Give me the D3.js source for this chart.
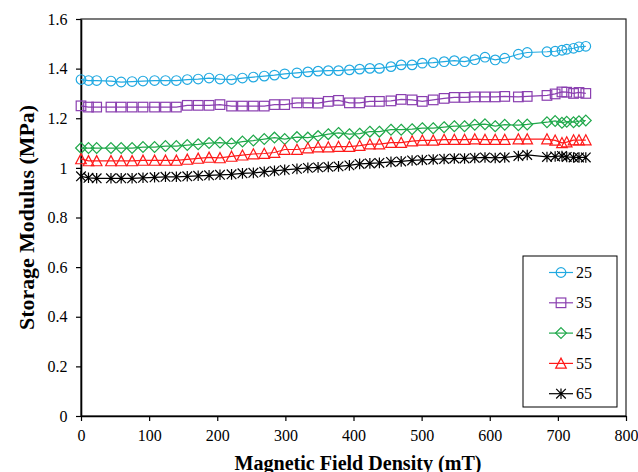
<!DOCTYPE html>
<html><head><meta charset="utf-8">
<script src="https://cdn.jsdelivr.net/npm/d3@7"></script>
<style>body{margin:0;background:#fff}svg{display:block}</style>
</head><body><svg id="c" width="638" height="472"></svg>
<script>
const field = [0, 11, 23, 44, 59, 75, 91, 108, 124, 140, 156, 172, 188, 204, 221, 237, 253, 269, 284, 299, 317, 333, 348, 363, 378, 394, 409, 424, 438, 455, 470, 486, 501, 517, 533, 548, 563, 578, 593, 608, 622, 642, 655, 684, 696, 706, 713, 723, 731, 741];
const s25 = [1.356,1.352,1.352,1.350,1.346,1.348,1.350,1.352,1.352,1.352,1.356,1.358,1.362,1.358,1.356,1.362,1.366,1.370,1.374,1.379,1.383,1.387,1.390,1.392,1.392,1.395,1.398,1.401,1.401,1.408,1.415,1.415,1.422,1.424,1.428,1.432,1.428,1.436,1.446,1.435,1.442,1.458,1.465,1.468,1.470,1.474,1.478,1.482,1.488,1.490];
const s35 = [1.250,1.245,1.245,1.245,1.245,1.245,1.245,1.245,1.245,1.245,1.252,1.252,1.252,1.255,1.249,1.249,1.249,1.249,1.255,1.255,1.262,1.262,1.261,1.268,1.272,1.262,1.262,1.268,1.268,1.270,1.276,1.274,1.268,1.274,1.280,1.284,1.284,1.286,1.286,1.286,1.288,1.286,1.288,1.292,1.298,1.306,1.305,1.300,1.304,1.300];
const s45 = [1.080,1.080,1.080,1.080,1.080,1.080,1.084,1.084,1.088,1.088,1.092,1.095,1.100,1.102,1.098,1.106,1.110,1.116,1.122,1.116,1.124,1.122,1.128,1.136,1.141,1.136,1.138,1.146,1.146,1.154,1.154,1.156,1.160,1.160,1.164,1.168,1.168,1.174,1.176,1.168,1.174,1.172,1.175,1.184,1.189,1.182,1.186,1.184,1.188,1.191];
const s55 = [1.036,1.028,1.028,1.028,1.028,1.028,1.030,1.030,1.030,1.030,1.034,1.038,1.042,1.040,1.046,1.051,1.056,1.058,1.062,1.074,1.074,1.080,1.084,1.084,1.086,1.086,1.090,1.096,1.096,1.102,1.102,1.108,1.111,1.111,1.114,1.114,1.114,1.116,1.114,1.114,1.114,1.116,1.116,1.116,1.111,1.101,1.104,1.112,1.112,1.112];
const s65 = [0.966,0.960,0.958,0.958,0.958,0.958,0.960,0.962,0.964,0.964,0.966,0.968,0.970,0.972,0.974,0.978,0.980,0.984,0.988,0.992,0.996,1.000,1.002,1.004,1.006,1.010,1.016,1.018,1.020,1.024,1.026,1.030,1.032,1.034,1.036,1.038,1.038,1.040,1.042,1.040,1.042,1.048,1.052,1.044,1.046,1.048,1.044,1.042,1.042,1.042];
const seriesNames = ["25", "35", "45", "55", "65"];
const seriesValues = [s25, s35, s45, s55, s65];
const xTicks = [0, 100, 200, 300, 400, 500, 600, 700, 800];
const yTicks = [0, 0.2, 0.4, 0.6, 0.8, 1, 1.2, 1.4, 1.6];

const colors = ["#21a9e1", "#8a3fb0", "#1fa84a", "#ff1a1a", "#000000"];
const symbols = ["circle", "square", "diamond", "triangle", "asterisk"];

const svg = d3.select("#c");
const L = 81, R = 626, T = 19, B = 416;
const x = d3.scaleLinear().domain([0, 800]).range([L, R]);
const y = d3.scaleLinear().domain([0, 1.6]).range([B, T]);
const font = "Liberation Serif, Times New Roman, serif";

// frame
svg.append("rect").attr("x", L).attr("y", T).attr("width", R - L).attr("height", B - T)
  .attr("fill", "none").attr("stroke", "#222").attr("stroke-width", 1.2);

const xa = svg.append("g").attr("transform", `translate(0,${B})`)
  .call(d3.axisBottom(x).tickValues(xTicks).tickSize(5).tickSizeOuter(0).tickFormat(d3.format("d")));
const ya = svg.append("g").attr("transform", `translate(${L},0)`)
  .call(d3.axisLeft(y).tickValues(yTicks).tickSize(5).tickSizeOuter(0).tickFormat(d => d === 0 || d === 1 ? String(d) : d3.format(".1f")(d)));
[xa, ya].forEach(a => {
  a.attr("font-family", font).attr("font-size", 16);
  a.select(".domain").attr("stroke", "#000").attr("stroke-width", 1.6);
  a.selectAll(".tick line").attr("stroke", "#000").attr("stroke-width", 1.2);
  a.selectAll("text").style("font-family", font).attr("font-size", 16).attr("fill", "#000");
});
xa.selectAll("text").attr("dy", "1.05em");
ya.selectAll("text").attr("dx", "-0.35em");

function drawMarker(g, type, cx, cy, color) {
  const s = 4.8;
  if (type === "circle") {
    g.append("circle").attr("cx", cx).attr("cy", cy).attr("r", s).attr("fill", "none").attr("stroke", color).attr("stroke-width", 1.2);
  } else if (type === "square") {
    g.append("rect").attr("x", cx - s).attr("y", cy - s).attr("width", 2 * s).attr("height", 2 * s).attr("fill", "none").attr("stroke", color).attr("stroke-width", 1.2);
  } else if (type === "diamond") {
    g.append("path").attr("d", `M${cx},${cy - s - 0.6}L${cx + s + 0.6},${cy}L${cx},${cy + s + 0.6}L${cx - s - 0.6},${cy}Z`).attr("fill", "none").attr("stroke", color).attr("stroke-width", 1.2);
  } else if (type === "triangle") {
    g.append("path").attr("d", `M${cx},${cy - s - 0.5}L${cx + s + 0.5},${cy + s}L${cx - s - 0.5},${cy + s}Z`).attr("fill", "none").attr("stroke", color).attr("stroke-width", 1.2);
  } else {
    const d = s;
    g.append("path").attr("d", `M${cx - d},${cy - d}L${cx + d},${cy + d}M${cx - d},${cy + d}L${cx + d},${cy - d}M${cx},${cy - d - 0.5}L${cx},${cy + d + 0.5}`).attr("fill", "none").attr("stroke", color).attr("stroke-width", 1.2);
  }
}

const line = d3.line().x(d => x(d[0])).y(d => y(d[1]));
seriesValues.forEach((vals, i) => {
  const pts = field.map((f, j) => [f, vals[j]]);
  const g = svg.append("g");
  g.append("path").attr("d", line(pts)).attr("fill", "none").attr("stroke", colors[i]).attr("stroke-width", 1.2);
  pts.forEach(p => drawMarker(g, symbols[i], x(p[0]), y(p[1]), colors[i]));
});

// legend
const lg = svg.append("g");
lg.append("rect").attr("x", 523).attr("y", 256).attr("width", 94).attr("height", 151).attr("fill", "#fff").attr("stroke", "#000").attr("stroke-width", 1);
seriesNames.forEach((n, i) => {
  const yy = 272.5 + i * 30.3;
  lg.append("line").attr("x1", 549).attr("x2", 573).attr("y1", yy).attr("y2", yy).attr("stroke", colors[i]).attr("stroke-width", 1.2);
  drawMarker(lg, symbols[i], 561, yy, colors[i]);
  lg.append("text").attr("x", 576).attr("y", yy).attr("dy", "0.35em").style("font-family", font).attr("font-size", 16).text(n);
});

// titles
svg.append("text").attr("x", 358).attr("y", 469.5).attr("text-anchor", "middle")
  .style("font-family", font).attr("font-size", 20).attr("font-weight", "bold")
  .attr("textLength", 247).attr("lengthAdjust", "spacingAndGlyphs").text("Magnetic Field Density (mT)");
svg.append("text").attr("transform", `translate(34,217.5) rotate(-90)`).attr("text-anchor", "middle")
  .style("font-family", font).attr("font-size", 21).attr("font-weight", "bold")
  .attr("textLength", 225).attr("lengthAdjust", "spacingAndGlyphs").text("Storage Modulus (MPa)");
</script></body></html>
